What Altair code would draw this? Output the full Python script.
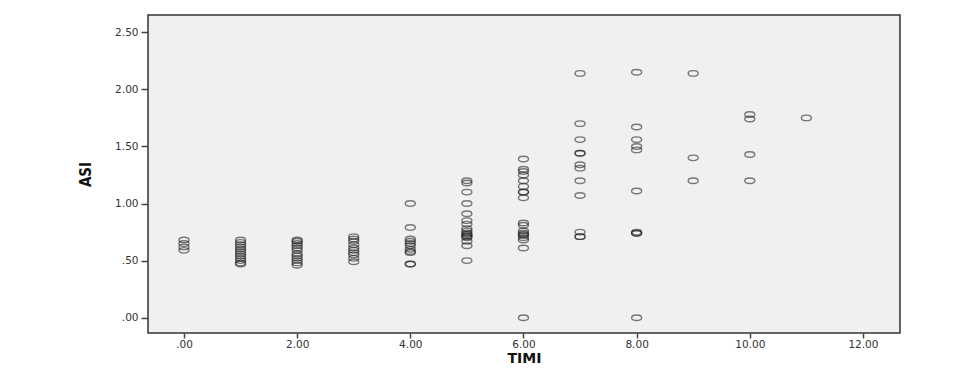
import altair as alt
import pandas as pd

# TIMI score -> ASI values
timi_0 = [0.68, 0.65, 0.62, 0.59]
timi_1 = [0.68, 0.66, 0.64, 0.62, 0.60, 0.58, 0.56, 0.54, 0.52, 0.50, 0.48, 0.47]
timi_2 = [0.68, 0.67, 0.65, 0.63, 0.61, 0.59, 0.56, 0.54, 0.52, 0.50, 0.48, 0.46]
timi_3 = [0.71, 0.69, 0.67, 0.64, 0.61, 0.59, 0.57, 0.55, 0.52, 0.49]
timi_4 = [1.00, 0.79, 0.69, 0.67, 0.65, 0.63, 0.60, 0.58, 0.57, 0.47, 0.47]
timi_5 = [1.20, 1.18, 1.10, 1.00, 0.91, 0.85, 0.82, 0.78, 0.76, 0.74, 0.73, 0.72,
          0.71, 0.70, 0.67, 0.63, 0.50]
timi_6 = [1.39, 1.30, 1.28, 1.25, 1.20, 1.15, 1.10, 1.10, 1.05, 0.83, 0.81, 0.76,
          0.74, 0.73, 0.72, 0.70, 0.68, 0.61, 0.00]
timi_7 = [2.14, 1.70, 1.56, 1.44, 1.44, 1.34, 1.31, 1.20, 1.07, 0.75, 0.71, 0.71]
timi_8 = [2.15, 1.67, 1.56, 1.50, 1.47, 1.11, 0.75, 0.74, 0.74, 0.00]
timi_9 = [2.14, 1.40, 1.20]
timi_10 = [1.78, 1.74, 1.43, 1.20]
timi_11 = [1.75]

columns = [timi_0, timi_1, timi_2, timi_3, timi_4, timi_5, timi_6,
           timi_7, timi_8, timi_9, timi_10, timi_11]

x_ticks = [0, 2, 4, 6, 8, 10, 12]
y_ticks = [0, 0.5, 1.0, 1.5, 2.0, 2.5]

rows = []
for t, vals in enumerate(columns):
    for v in vals:
        rows.append({"TIMI": float(t), "ASI": v})
df = pd.DataFrame(rows)

label_expr = ("datum.value < 1 ? substring(format(datum.value, '.2f'), 1) "
              ": format(datum.value, '.2f')")

ellipse = "M -1 0 A 1 0.55 0 1 0 1 0 A 1 0.55 0 1 0 -1 0 Z"

chart = alt.Chart(df).mark_point(
    shape=ellipse, size=100, filled=False, stroke="#1a1a1a",
    strokeWidth=1.4, strokeOpacity=0.8
).encode(
    x=alt.X("TIMI:Q",
            scale=alt.Scale(domain=[-0.636, 12.655], nice=False, zero=False),
            axis=alt.Axis(values=x_ticks, labelExpr=label_expr, grid=False,
                          domain=False, tickSize=5, tickWidth=1.5,
                          tickColor="#444444", labelPadding=1,
                          labelFont="DejaVu Sans", labelFontSize=10.5,
                          labelColor="#333333",
                          title="TIMI", titleFont="DejaVu Sans",
                          titleFontSize=14, titleFontWeight="bold",
                          titleColor="#111111", titleX=376, titleY=25,
                          titleBaseline="middle", titleAlign="center")),
    y=alt.Y("ASI:Q",
            scale=alt.Scale(domain=[-0.134, 2.6515], nice=False, zero=False),
            axis=alt.Axis(values=y_ticks, labelExpr=label_expr, grid=False,
                          domain=False, tickSize=7, tickWidth=1.5,
                          tickColor="#444444", labelPadding=3,
                          labelFont="DejaVu Sans", labelFontSize=10.5,
                          labelColor="#333333",
                          title="ASI", titleFont="DejaVu Sans Condensed",
                          titleFontSize=15, titleFontWeight="bold",
                          titleColor="#111111", titleX=-63, titleY=159,
                          titleAngle=270, titleBaseline="middle",
                          titleAlign="center")),
).properties(
    width=752, height=318,
    autosize=alt.AutoSizeParams(type="none"),
    padding={"left": 148, "top": 15, "right": 74, "bottom": 47},
    background="white",
).configure_view(
    fill="#F0F0F0", stroke="#333333", strokeWidth=1.5
)

chart.save("out.html", embed_options={"renderer": "svg", "actions": False})
